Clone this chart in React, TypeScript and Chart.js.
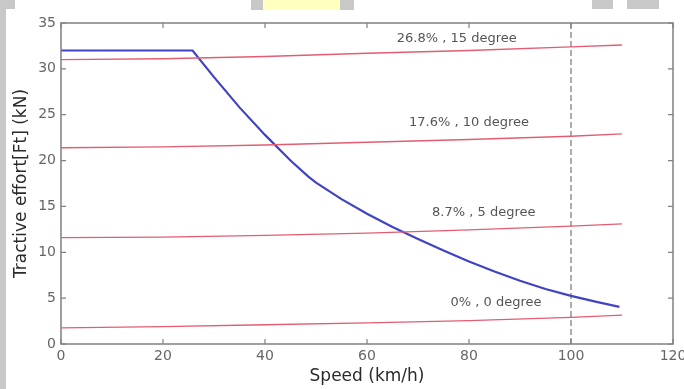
import { useEffect, useRef } from "react";
import { Chart, registerables } from "chart.js";

Chart.register(...registerables);

// Tractive effort curve (km/h -> kN)
const tractionSpeed = [0, 25.8, 30, 35, 40, 45, 48.5, 50, 55, 60, 65, 70, 75, 80, 85, 90, 95, 100, 105, 109.5];
const tractionEffort = [32, 32, 29.1, 25.8, 22.8, 20.0, 18.25, 17.6, 15.8, 14.2, 12.75, 11.45, 10.2, 9.0, 7.9, 6.9, 6.0, 5.25, 4.6, 4.05];

// Running resistance on grades
const resistSpeed = [0, 20, 40, 60, 80, 100, 110];
const resistGrade0 = [1.75, 1.9, 2.1, 2.3, 2.55, 2.9, 3.15];
const resistGrade5 = [11.6, 11.65, 11.85, 12.1, 12.45, 12.85, 13.1];
const resistGrade10 = [21.4, 21.5, 21.7, 22.0, 22.3, 22.65, 22.9];
const resistGrade15 = [31.0, 31.1, 31.35, 31.7, 32.0, 32.4, 32.6];

const gradeLabels = ["26.8% , 15 degree", "17.6% , 10 degree", "8.7% , 5 degree", "0% , 0 degree"];
const gradeLabelSpeed = [77.6, 80, 82.9, 85.3];
const gradeLabelForce = [33.3, 24.1, 14.3, 4.5];

const speedLimit = 100;
const xTicks = [0, 20, 40, 60, 80, 100, 120];
const yTicks = [0, 5, 10, 15, 20, 25, 30, 35];
const xTitle = "Speed (km/h)";
const yTitle = "Tractive effort[Ft] (kN)";

const toPoints = (xs: number[], ys: number[]) => xs.map((x, i) => ({ x, y: ys[i] }));

const bgPlugin = {
  id: "bgDecor",
  beforeDraw(chart: any) {
    const ctx = chart.ctx;
    ctx.save();
    ctx.fillStyle = "#ffffff";
    ctx.fillRect(0, 0, chart.width, chart.height);
    ctx.fillStyle = "#c8c8c8";
    ctx.fillRect(0, 0, 15, 9);
    ctx.fillRect(0, 9, 6, 380);
    ctx.fillRect(251, 0, 12, 10);
    ctx.fillRect(340, 0, 14, 10);
    ctx.fillRect(592, 0, 21, 9);
    ctx.fillRect(627, 0, 32, 9);
    ctx.fillStyle = "#ffffc0";
    ctx.fillRect(263, 0, 77, 10);
    ctx.restore();
  },
};

const framePlugin = {
  id: "matlabFrame",
  afterDatasetsDraw(chart: any) {
    const ctx = chart.ctx;
    const { left, right, top, bottom } = chart.chartArea;
    const xs = chart.scales.x;
    const ys = chart.scales.y;
    ctx.save();
    // annotations
    ctx.font = "13px 'DejaVu Sans'";
    ctx.fillStyle = "#555555";
    ctx.textAlign = "center";
    ctx.textBaseline = "middle";
    gradeLabels.forEach((t, i) => {
      ctx.fillText(t, xs.getPixelForValue(gradeLabelSpeed[i]), ys.getPixelForValue(gradeLabelForce[i]));
    });
    // frame
    ctx.strokeStyle = "#808080";
    ctx.lineWidth = 1.5;
    ctx.strokeRect(left, top, right - left, bottom - top);
    ctx.lineWidth = 1.2;
    const tl = 5;
    ctx.beginPath();
    xTicks.forEach((v) => {
      const p = xs.getPixelForValue(v);
      ctx.moveTo(p, bottom);
      ctx.lineTo(p, bottom - tl);
      ctx.moveTo(p, top);
      ctx.lineTo(p, top + tl);
    });
    yTicks.forEach((v) => {
      const p = ys.getPixelForValue(v);
      ctx.moveTo(left, p);
      ctx.lineTo(left + tl, p);
      ctx.moveTo(right, p);
      ctx.lineTo(right - tl, p);
    });
    ctx.stroke();
    ctx.restore();
  },
};

export default function App() {
  const canvasRef = useRef<HTMLCanvasElement | null>(null);

  useEffect(() => {
    if (!canvasRef.current) return;
    const red = "#e35d72";
    const redLine = (data: number[], label: string) => ({
      label,
      data: toPoints(resistSpeed, data),
      borderColor: red,
      borderWidth: 1.3,
      pointRadius: 0,
      tension: 0,
    });
    const chart = new Chart(canvasRef.current, {
      type: "line",
      data: {
        datasets: [
          redLine(resistGrade0, gradeLabels[3]),
          redLine(resistGrade5, gradeLabels[2]),
          redLine(resistGrade10, gradeLabels[1]),
          redLine(resistGrade15, gradeLabels[0]),
          {
            label: "limit",
            data: [
              { x: speedLimit, y: yTicks[0] },
              { x: speedLimit, y: yTicks[yTicks.length - 1] },
            ],
            borderColor: "#5a5a5a",
            borderWidth: 1,
            borderDash: [6, 3],
            pointRadius: 0,
          },
          {
            label: "Tractive effort",
            data: toPoints(tractionSpeed, tractionEffort),
            borderColor: "#4242c4",
            borderWidth: 2.2,
            pointRadius: 0,
            tension: 0,
          },
        ],
      },
      options: {
        responsive: false,
        animation: false,
        events: [],
        layout: { padding: { top: 23, right: 11, left: 0, bottom: 0 } },
        plugins: { legend: { display: false }, tooltip: { enabled: false } },
        scales: {
          x: {
            type: "linear",
            min: 0,
            max: 120,
            afterBuildTicks: (s: any) => {
              s.ticks = xTicks.map((v) => ({ value: v }));
            },
            afterFit: (s: any) => {
              s.height = 45;
              s.paddingLeft = 0;
              s.paddingRight = 0;
            },
            grid: { display: false, drawTicks: false },
            border: { display: false },
            ticks: {
              padding: 4,
              color: "#666666",
              font: { family: "'DejaVu Sans'", size: 14 },
              maxRotation: 0,
              autoSkip: false,
            },
            title: {
              display: true,
              text: xTitle,
              color: "#2a2a2a",
              font: { family: "'DejaVu Sans'", size: 17 },
              padding: { top: 0, bottom: 2 },
            },
          },
          y: {
            type: "linear",
            min: 0,
            max: 35,
            afterBuildTicks: (s: any) => {
              s.ticks = yTicks.map((v) => ({ value: v }));
            },
            afterFit: (s: any) => {
              s.width = 61;
              s.paddingTop = 0;
              s.paddingBottom = 0;
            },
            grid: { display: false, drawTicks: false },
            border: { display: false },
            ticks: {
              padding: 5,
              color: "#666666",
              font: { family: "'DejaVu Sans'", size: 14 },
              autoSkip: false,
            },
            title: {
              display: true,
              text: yTitle,
              color: "#2a2a2a",
              font: { family: "'DejaVu Sans'", size: 17 },
              padding: { top: 11, bottom: 0 },
            },
          },
        },
      },
      plugins: [bgPlugin, framePlugin],
    } as any);
    return () => chart.destroy();
  }, []);

  return (
    <div style={{ position: "fixed", left: 0, top: 0, width: 684, height: 389, background: "#fff" }}>
      <canvas ref={canvasRef} width={684} height={389} style={{ display: "block" }} />
    </div>
  );
}
